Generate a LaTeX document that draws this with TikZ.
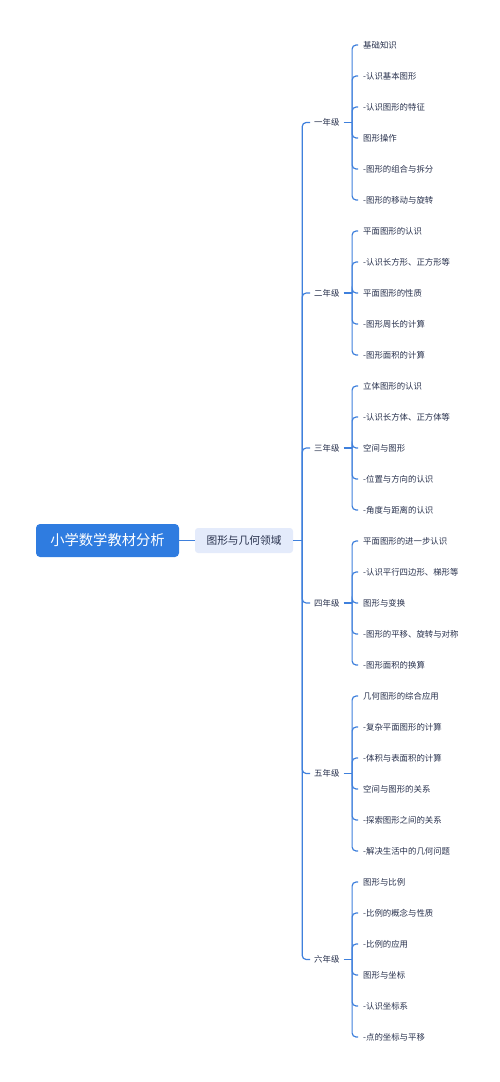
\documentclass[tikz,border=0pt]{standalone}
\usepackage{fontspec}
\setmainfont{Noto Sans CJK SC}
\usetikzlibrary{positioning}
\definecolor{rootblue}{HTML}{2F7CE0}
\definecolor{linkblue}{HTML}{3F80DC}
\definecolor{fieldbg}{HTML}{E4EBFB}
\definecolor{inktext}{HTML}{27304C}

\begin{document}
\begin{tikzpicture}[x=1pt, y=-1pt,
    rootbox/.style={fill=rootblue, text=white, rounded corners=4pt, minimum width=143pt, minimum height=33pt, inner sep=0pt, font=\fontsize{14.3}{16}\selectfont},
    fieldbox/.style={fill=fieldbg, text=inktext, rounded corners=3pt, minimum width=98pt, minimum height=25pt, inner sep=0pt, font=\fontsize{10.7}{12}\selectfont},
    grade/.style={anchor=west, text=inktext, inner xsep=4pt, inner ysep=2pt, font=\fontsize{8.4}{10}\selectfont},
    leaf/.style={anchor=west, text=inktext, inner xsep=5pt, inner ysep=2pt, font=\fontsize{8.4}{10}\selectfont},
    link/.style={draw=linkblue, line width=1.2pt, rounded corners=4pt}]
    \useasboundingbox (0,0) rectangle (500,1082);

    % Root and field
    \node[rootbox] (root) at (107.5,540.5) {小学数学教材分析};
    \node[fieldbox] (field) at (244,540.5) {图形与几何领域};
    \draw[link] (root.east) -- (field.west);

    % Grades
    \node[grade] (g1) at (310,122.5) {一年级};
    \node[grade] (g2) at (310,293) {二年级};
    \node[grade] (g3) at (310,448) {三年级};
    \node[grade] (g4) at (310,603) {四年级};
    \node[grade] (g5) at (310,773.5) {五年级};
    \node[grade] (g6) at (310,959.5) {六年级};
    \coordinate (fj) at ([xshift=9pt]field.east);
    \draw[link] (field.east) -- (fj);
    \foreach \g in {g1,g2,g3,g4,g5,g6} {
        \draw[link] (fj) |- (\g.west);
        \coordinate (\g j) at ([xshift=8.5pt]\g.east);
        \draw[link] (\g.east) -- (\g j);
    }

    % Grade 1
    \foreach \t [count=\i from 0] in {基础知识, -认识基本图形, -认识图形的特征, 图形操作, -图形的组合与拆分, -图形的移动与旋转} {
        \node[leaf] (g1-\i) at (358,{45+31*\i}) {\t};
        \draw[link] (g1j) |- (g1-\i.west);
    }

    % Grade 2
    \foreach \t [count=\i from 6] in {平面图形的认识, -认识长方形、正方形等, 平面图形的性质, -图形周长的计算, -图形面积的计算} {
        \node[leaf] (g2-\i) at (358,{45+31*\i}) {\t};
        \draw[link] (g2j) |- (g2-\i.west);
    }

    % Grade 3
    \foreach \t [count=\i from 11] in {立体图形的认识, -认识长方体、正方体等, 空间与图形, -位置与方向的认识, -角度与距离的认识} {
        \node[leaf] (g3-\i) at (358,{45+31*\i}) {\t};
        \draw[link] (g3j) |- (g3-\i.west);
    }

    % Grade 4
    \foreach \t [count=\i from 16] in {平面图形的进一步认识, -认识平行四边形、梯形等, 图形与变换, -图形的平移、旋转与对称, -图形面积的换算} {
        \node[leaf] (g4-\i) at (358,{45+31*\i}) {\t};
        \draw[link] (g4j) |- (g4-\i.west);
    }

    % Grade 5
    \foreach \t [count=\i from 21] in {几何图形的综合应用, -复杂平面图形的计算, -体积与表面积的计算, 空间与图形的关系, -探索图形之间的关系, -解决生活中的几何问题} {
        \node[leaf] (g5-\i) at (358,{45+31*\i}) {\t};
        \draw[link] (g5j) |- (g5-\i.west);
    }

    % Grade 6
    \foreach \t [count=\i from 27] in {图形与比例, -比例的概念与性质, -比例的应用, 图形与坐标, -认识坐标系, -点的坐标与平移} {
        \node[leaf] (g6-\i) at (358,{45+31*\i}) {\t};
        \draw[link] (g6j) |- (g6-\i.west);
    }
\end{tikzpicture}
\end{document}
